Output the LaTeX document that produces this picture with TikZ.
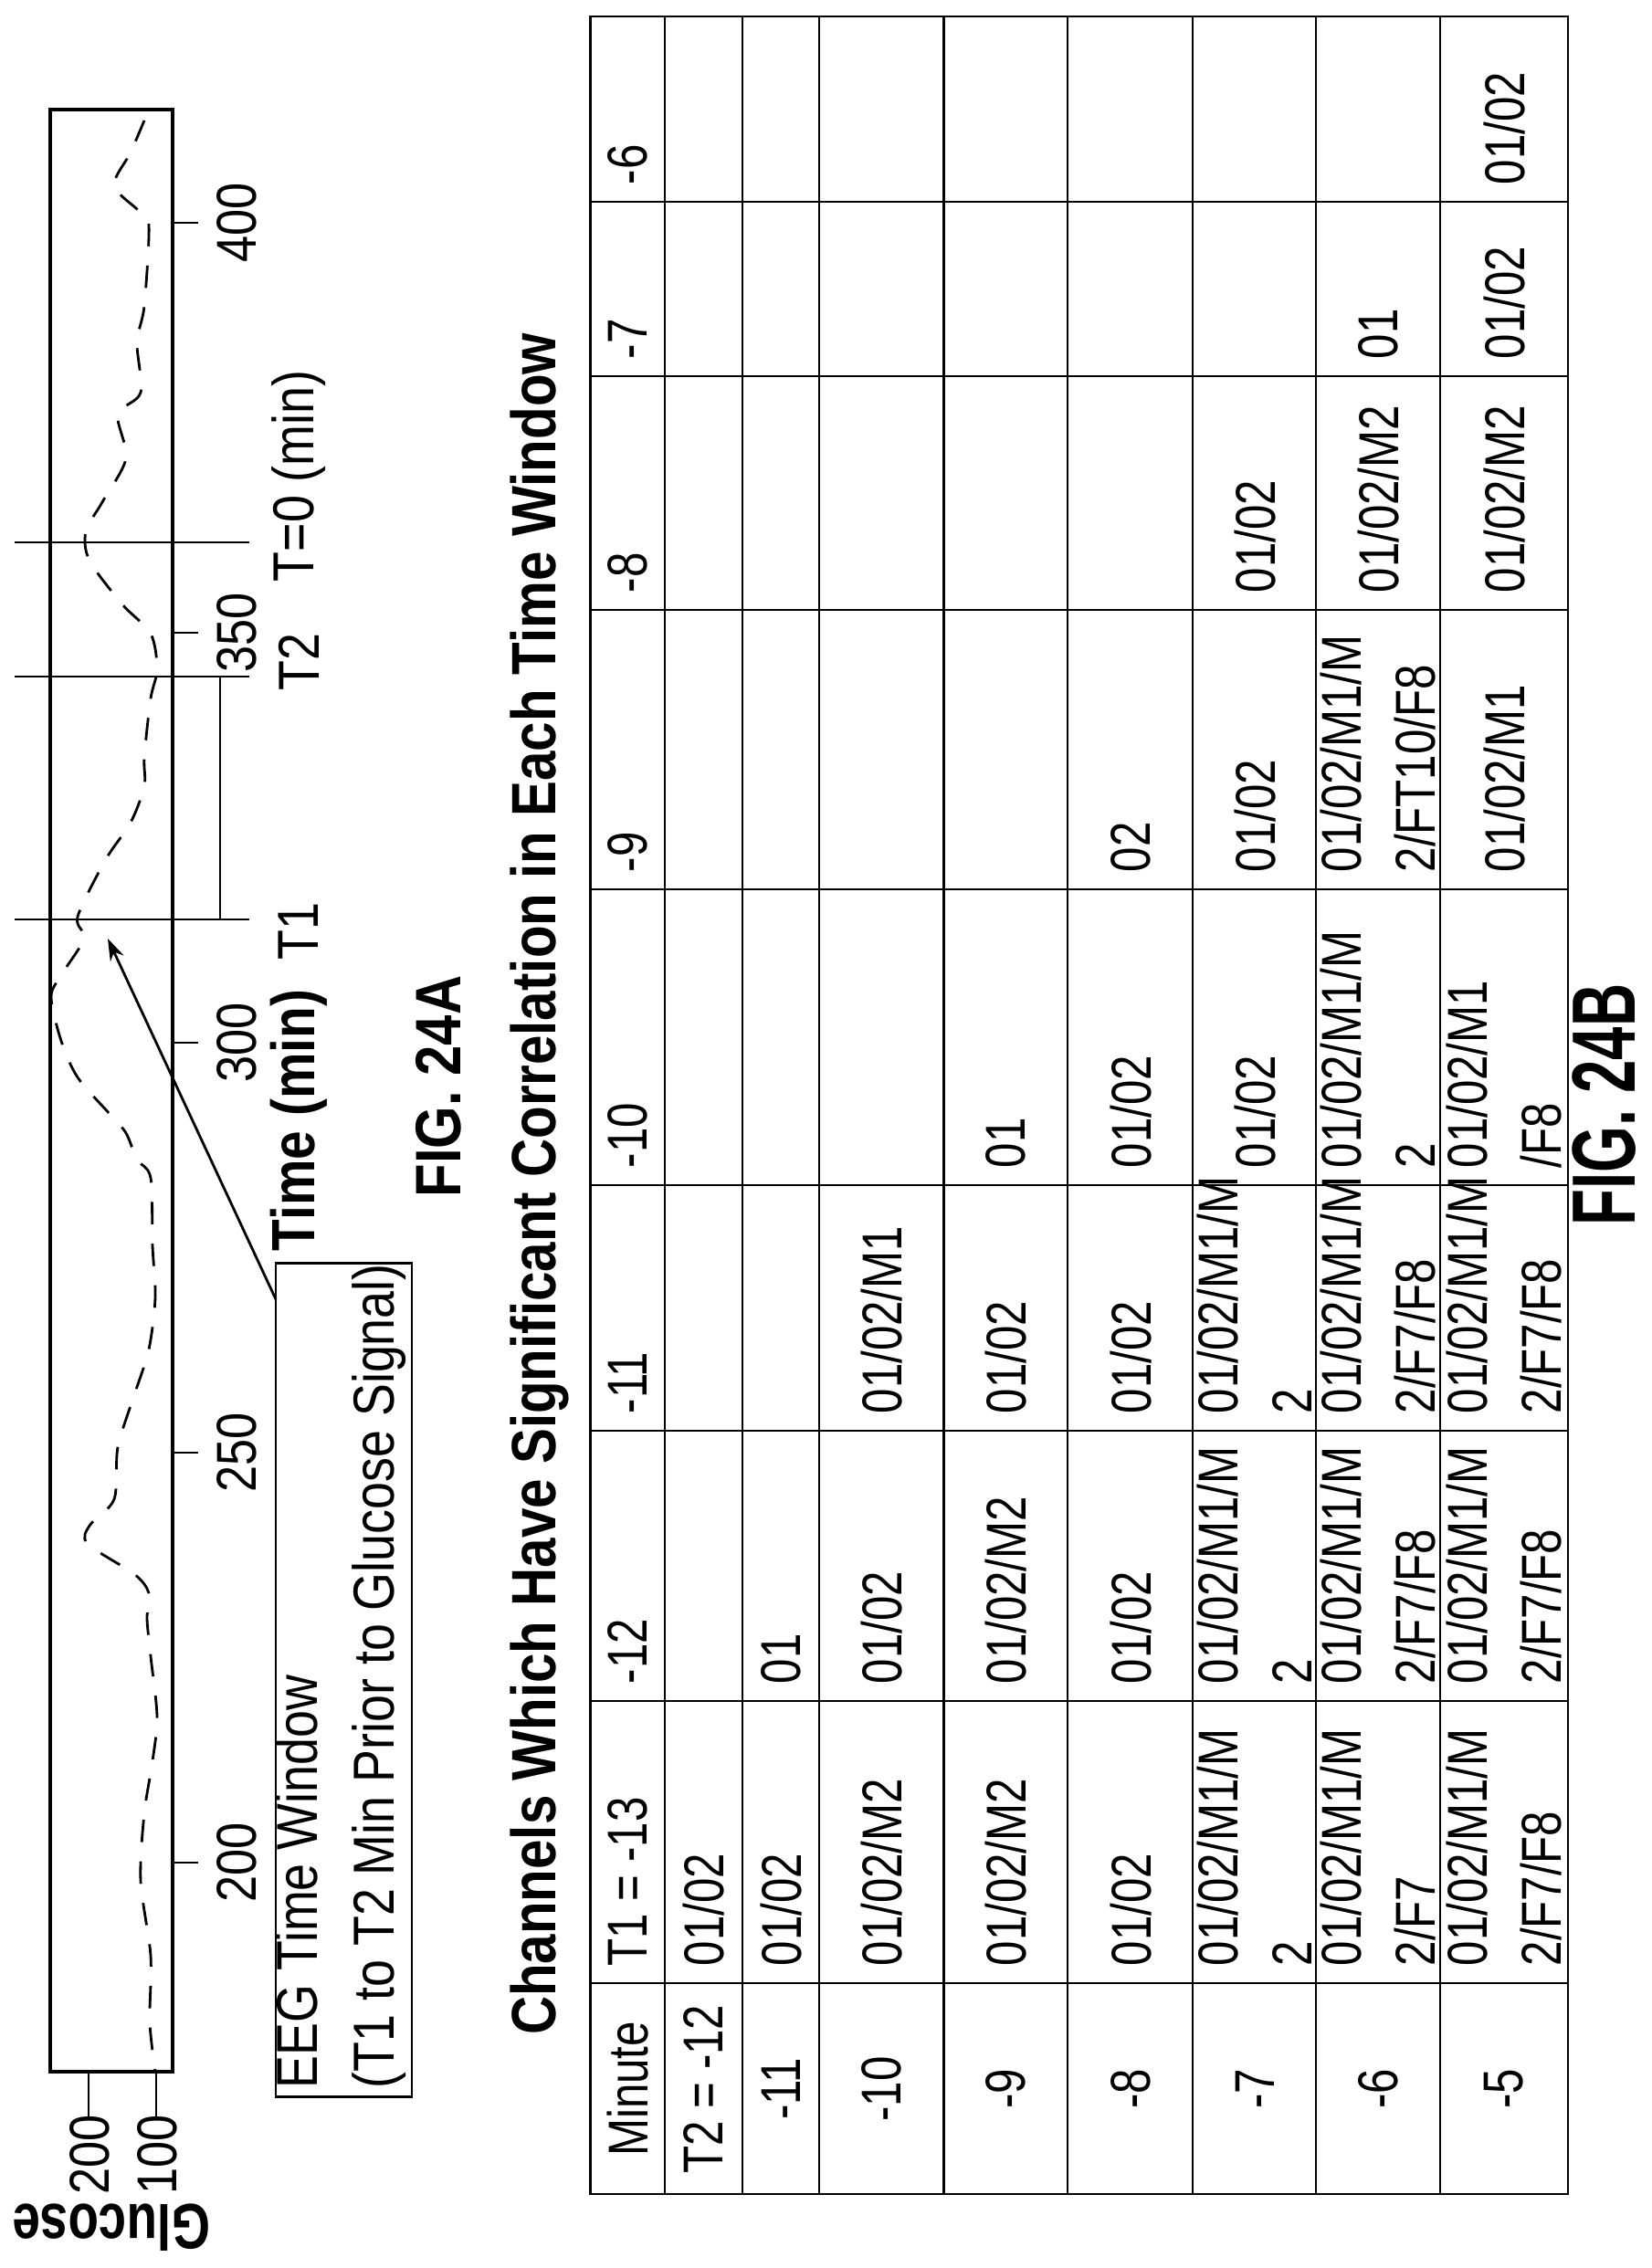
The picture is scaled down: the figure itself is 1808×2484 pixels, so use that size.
\documentclass[tikz,border=0pt]{standalone}
\usepackage{fontspec}
\setmainfont{Liberation Sans}[FakeStretch=0.85]
\newfontfamily\tabfont{Liberation Sans}[FakeStretch=0.8]
\newfontfamily\condfont{Liberation Sans}[FakeStretch=0.78]
\usetikzlibrary{arrows.meta}
\tikzset{
  txt/.style={inner sep=0pt, font=\fontsize{17.5}{21}\selectfont},
  cell/.style={inner sep=0pt, anchor=west, align=left, font=\fontsize{17.5}{23}\tabfont},
  hdr/.style={inner sep=0pt, align=center, font=\fontsize{17.5}{23}\tabfont},
  frame/.style={line width=0.9pt},
  grid/.style={line width=0.7pt}
}
\begin{document}
\begin{tikzpicture}[x=0.01cm, y=0.01cm]
  \useasboundingbox (0,0) rectangle (1808,2484);
  \begin{scope}[shift={(1808,0)}, rotate=90, transform shape]
    % Glucose plot frame
    \draw[frame] (215,1619) rectangle (2364,1753);
    \node[txt, rotate=90, font=\fontsize{20}{22}\condfont\bfseries] (ylabel) at (44,1686) {Glucose};
    \draw (162,1711) -- (215,1711);
    \draw (162,1637) -- (215,1637);
    \node[txt] (y200) at (124,1710) {200};
    \node[txt] (y100) at (124,1636) {100};
    % Time axis ticks
    \foreach \u/\t in {444/200, 893/250, 1342/300, 1791/350, 2240/400} {
      \draw (\u,1619) -- (\u,1591);
      \node[txt] (tick\t) at (\u,1549) {\t};
    }
    % Window markers
    \draw (1477,1535) -- (1477,1792);
    \draw (1743,1535) -- (1743,1792);
    \draw (1890,1535) -- (1890,1792);
    \draw (1477,1567) -- (1743,1567);
    \node[txt, font=\fontsize{18}{20}\selectfont] (tone) at (1464,1481) {T1};
    \node[txt, font=\fontsize{18}{20}\selectfont] (ttwo) at (1759,1481) {T2};
    \node[txt, anchor=west, font=\fontsize{18}{20}\selectfont] (tzero) at (1846,1481) {T=0 (min)};
    \node[txt, font=\fontsize{19}{22}\selectfont\bfseries] (xlabel) at (1257,1481) {Time (min)};
    % Legend and arrow
    \node[draw, line width=0.8pt, minimum width=9.12cm, minimum height=1.49cm, inner sep=0pt] (legend) at (644,1431.5) {};
    \node[anchor=west, inner sep=0pt, align=left, font=\fontsize{18}{24}\selectfont] (legtext) at (196,1435) {EEG Time Window\\(T1 to T2 Min Prior to Glucose Signal)};
    \coordinate (tail) at (1061,1506);
    \coordinate (tip) at (1456,1690);
    \draw[line width=0.8pt, -{Stealth[length=0.24cm, width=0.16cm]}] (tail) -- (tip);
    \node[inner sep=0pt, font=\fontsize{20}{22}\selectfont\bfseries] (figa) at (1294,1328) {FIG. 24A};
    % Table
    \node[inner sep=0pt, font=\fontsize{19.5}{22}\selectfont\bfseries] (title) at (1187,1217) {Channels Which Have Significant Correlation in Each Time Window};
    \draw[grid] (81,91) rectangle (2466,1161.5);
    \foreach \u in {312, 621, 917, 1186, 1510, 1816, 2072, 2263}
      \draw[grid] (\u,91) -- (\u,1161.5);
    \foreach \v in {1080, 995, 911, 774.5, 639, 502, 367, 231}
      \draw[grid] (81,\v) -- (2466,\v);
    \foreach \v/\t [count=\i] in {1121/Minute, 1038/{T2 = -12}, 953/-11, 843/-10, 707/-9, 570/-8, 434/-7, 299/-6, 161/-5}
      \node[hdr] (row\i) at (196,\v) {\t};
    \foreach \u/\t [count=\i] in {330/{T1 = -13}, 639/-12, 935/-11, 1204/-10, 1528/-9, 1834/-8, 2090/-7, 2281/-6}
      \node[cell] (col\i) at (\u,1121) {\t};
    \foreach \u/\v/\t [count=\i] in {
      330/1038/{01/02}, 330/953/{01/02}, 330/843/{01/02/M2}, 330/707/{01/02/M2}, 330/570/{01/02},
      330/434/{01/02/M1/M\\2}, 330/299/{01/02/M1/M\\2/F7}, 330/161/{01/02/M1/M\\2/F7/F8},
      639/953/{01}, 639/843/{01/02}, 639/707/{01/02/M2}, 639/570/{01/02},
      639/434/{01/02/M1/M\\2}, 639/299/{01/02/M1/M\\2/F7/F8}, 639/161/{01/02/M1/M\\2/F7/F8},
      935/843/{01/02/M1}, 935/707/{01/02}, 935/570/{01/02},
      935/434/{01/02/M1/M\\2}, 935/299/{01/02/M1/M\\2/F7/F8}, 935/161/{01/02/M1/M\\2/F7/F8},
      1204/707/{01}, 1204/570/{01/02}, 1204/434/{01/02}, 1204/299/{01/02/M1/M\\2}, 1204/161/{01/02/M1\\/F8},
      1528/570/{02}, 1528/434/{01/02}, 1528/299/{01/02/M1/M\\2/FT10/F8}, 1528/161/{01/02/M1},
      1834/434/{01/02}, 1834/299/{01/02/M2}, 1834/161/{01/02/M2},
      2090/299/{01}, 2090/161/{01/02},
      2281/161/{01/02}}
      \node[cell] (cell\i) at (\u,\v) {\t};
    \node[inner sep=0pt, font=\fontsize{28}{30}\condfont\bfseries] (figb) at (1274,51) {\scalebox{0.85}[1]{FIG. 24B}};
  \end{scope}
  % Glucose trace
  \draw[line width=0.8pt, dash pattern=on 7pt off 6pt] plot[smooth] coordinates {
    (158,2352) (143,2317) (125,2281) (152,2253) (163,2237) (158,2149) (150,2109)
    (154,2054) (129,2030) (138,1982) (112,1934) (94,1902) (98,1870) (134,1822)
    (165,1790) (172,1751) (165,1719) (158,1655) (158,1623) (143,1583) (116,1543)
    (85,1480) (92,1456) (67,1416) (56,1392) (67,1344) (85,1304) (120,1264)
    (138,1243) (150,1214) (165,1194) (167,1120) (170,1063) (163,1006) (147,956)
    (129,899) (125,842) (98,813) (96,793) (147,760) (163,739) (161,711) (165,670)
    (172,604) (167,555) (158,498) (154,424) (165,342) (164,269) (170,215)};
\end{tikzpicture}
\end{document}
